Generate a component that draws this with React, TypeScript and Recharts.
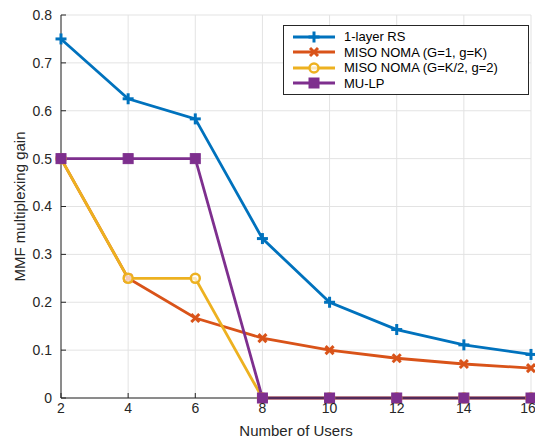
import { LineChart, Line, XAxis, YAxis, CartesianGrid } from "recharts";

const users = [2, 4, 6, 8, 10, 12, 14, 16];
const rsGain = [0.75, 0.625, 0.583, 0.333, 0.2, 0.143, 0.111, 0.091];
const nomaG1 = [0.5, 0.25, 0.167, 0.125, 0.1, 0.083, 0.071, 0.0625];
const nomaGK2 = [0.5, 0.25, 0.25, 0, 0, 0, 0, 0];
const muLp = [0.5, 0.5, 0.5, 0, 0, 0, 0, 0];

const xTicks = [2, 4, 6, 8, 10, 12, 14, 16];
const yTicks = [0, 0.1, 0.2, 0.3, 0.4, 0.5, 0.6, 0.7, 0.8];

const data = users.map((k, i) => ({
  k,
  rs: rsGain[i],
  noma1: nomaG1[i],
  noma2: nomaGK2[i],
  mulp: muLp[i],
}));

const FONT = '"Liberation Sans", Arial, Helvetica, sans-serif';
const AXIS = "#262626";

const SERIES = [
  { key: "rs", name: "1-layer RS", color: "#0072BD", marker: "plus" },
  { key: "noma1", name: "MISO NOMA (G=1, g=K)", color: "#D95319", marker: "cross" },
  { key: "noma2", name: "MISO NOMA (G=K/2, g=2)", color: "#EDB120", marker: "circle" },
  { key: "mulp", name: "MU-LP", color: "#7E2F8E", marker: "square" },
];

function Marker({ cx, cy, kind, color }: { cx: number; cy: number; kind: string; color: string }) {
  if (cx == null || cy == null) return null;
  const s = 5.5;
  if (kind === "plus")
    return (
      <g stroke={color} strokeWidth={3}>
        <line x1={cx - s} y1={cy} x2={cx + s} y2={cy} />
        <line x1={cx} y1={cy - s} x2={cx} y2={cy + s} />
      </g>
    );
  if (kind === "cross")
    return (
      <g stroke={color} strokeWidth={3}>
        <line x1={cx - 4} y1={cy - 4} x2={cx + 4} y2={cy + 4} />
        <line x1={cx - 4} y1={cy + 4} x2={cx + 4} y2={cy - 4} />
      </g>
    );
  if (kind === "circle")
    return <circle cx={cx} cy={cy} r={4.5} fill="#fff" fillOpacity={0.7} stroke={color} strokeWidth={2.5} />;
  return <rect x={cx - 5} y={cy - 5} width={10} height={10} fill={color} stroke={color} strokeWidth={1} />;
}

function LegendBox() {
  return (
    <div
      style={{
        position: "absolute",
        left: 283,
        top: 25,
        width: 228,
        border: "1px solid #262626",
        background: "#fff",
        padding: "3px 8px 3px 8px",
        fontFamily: FONT,
        fontSize: 13,
        color: "#000",
      }}
    >
      {SERIES.map((s) => (
        <div key={s.key} style={{ display: "flex", alignItems: "center", height: 15.5 }}>
          <svg width={44} height={14} style={{ marginRight: 8 }}>
            <line x1={1} y1={7} x2={43} y2={7} stroke={s.color} strokeWidth={3} />
            <Marker cx={22} cy={7} kind={s.marker} color={s.color} />
          </svg>
          <span>{s.name}</span>
        </div>
      ))}
    </div>
  );
}

export default function App() {
  return (
    <div style={{ position: "absolute", left: 0, top: 0, width: 535, height: 440, background: "#fff" }}>
      <LineChart
        width={535}
        height={440}
        data={data}
        margin={{ top: 15, right: 4, bottom: 12, left: 0 }}
      >
        <CartesianGrid stroke="#e3e3e3" strokeWidth={1} />
        <XAxis
          dataKey="k"
          type="number"
          domain={[2, 16]}
          ticks={xTicks}
          stroke={AXIS}
          tickSize={-5}
          tickMargin={10}
          height={30}
          tick={{ fill: AXIS, fontSize: 14, fontFamily: FONT }}
          label={{ value: "Number of Users", position: "insideBottom", offset: -8, fill: AXIS, fontSize: 15, fontFamily: FONT }}
        />
        <XAxis xAxisId="top" dataKey="k" type="number" domain={[2, 16]} ticks={xTicks} orientation="top" height={0} stroke={AXIS} tickSize={-5} tick={false} />
        <YAxis
          type="number"
          domain={[0, 0.8]}
          ticks={yTicks}
          stroke={AXIS}
          width={61}
          tickSize={-5}
          tickMargin={14}
          tick={{ fill: AXIS, fontSize: 14, fontFamily: FONT }}
          label={{ value: "MMF multiplexing gain", angle: -90, position: "insideLeft", offset: 20, fill: AXIS, fontSize: 15, fontFamily: FONT, style: { textAnchor: "middle" } }}
        />
        <YAxis yAxisId="right" type="number" domain={[0, 0.8]} ticks={yTicks} orientation="right" width={0} stroke={AXIS} tickSize={-5} tick={false} />
        {SERIES.map((s) => (
          <Line
            key={s.key}
            dataKey={s.key}
            name={s.name}
            stroke={s.color}
            strokeWidth={2.8}
            isAnimationActive={false}
            dot={(p: any) => <Marker key={`${s.key}-${p.index}`} cx={p.cx} cy={p.cy} kind={s.marker} color={s.color} />}
            activeDot={false}
          />
        ))}
      </LineChart>
      <LegendBox />
    </div>
  );
}
